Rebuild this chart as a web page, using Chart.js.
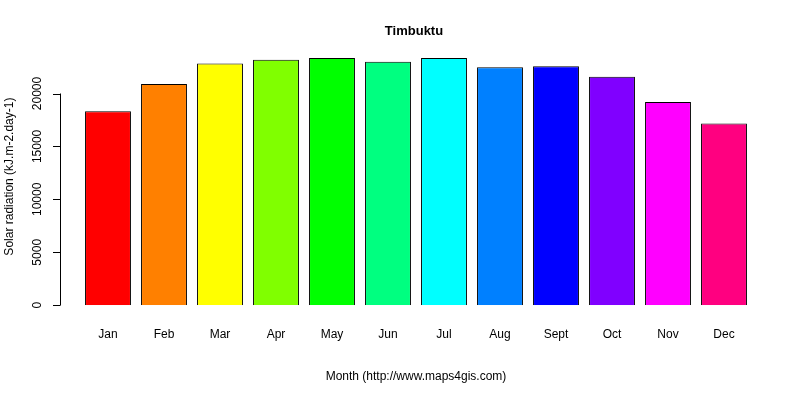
<!DOCTYPE html>
<html>
<head>
<script src="https://cdn.jsdelivr.net/npm/chart.js@4"></script>
<style>body{margin:0;background:#fff}</style>
</head>
<body>
<canvas id="c" width="800" height="400"></canvas>
<script>
const months = ["Jan","Feb","Mar","Apr","May","Jun","Jul","Aug","Sept","Oct","Nov","Dec"];
const radiation = [18320,20890,22830,23190,23360,23010,23360,22480,22570,21590,19200,17170];
const barColors = ["#FF0000","#FF8000","#FFFF00","#80FF00","#00FF00","#00FF80","#00FFFF","#0080FF","#0000FF","#8000FF","#FF00FF","#FF0080"];
const yTicks = [0,5000,10000,15000,20000];

const font = "12px 'Liberation Sans', Arial, sans-serif";

const rAxis = {
    id: "rAxis",
    afterDraw(chart) {
        const ctx = chart.ctx;
        const y = chart.scales.y;
        const area = chart.chartArea;
        ctx.save();
        ctx.strokeStyle = "#000";
        ctx.lineWidth = 1;
        ctx.fillStyle = "#000";
        ctx.beginPath();
        ctx.moveTo(60.5, y.getPixelForValue(0));
        ctx.lineTo(60.5, y.getPixelForValue(20000));
        yTicks.forEach((t) => {
            const py = Math.round(y.getPixelForValue(t)) + 0.5;
            ctx.moveTo(53, py);
            ctx.lineTo(60.5, py);
        });
        ctx.stroke();
        ctx.font = font;
        ctx.textAlign = "center";
        ctx.textBaseline = "middle";
        yTicks.forEach((t) => {
            ctx.save();
            ctx.translate(38, y.getPixelForValue(t));
            ctx.rotate(-Math.PI / 2);
            ctx.fillText(String(t), 0, 0);
            ctx.restore();
        });
        ctx.save();
        ctx.translate(10, (area.top + area.bottom) / 2);
        ctx.rotate(-Math.PI / 2);
        ctx.fillText("Solar radiation (kJ.m-2.day-1)", 0, 0);
        ctx.restore();
        ctx.font = "bold 13px 'Liberation Sans', Arial, sans-serif";
        ctx.fillText("Timbuktu", 414, 31);
        ctx.restore();
    },
};

new Chart(document.getElementById("c"), {
    type: "bar",
    data: {
        labels: months,
        datasets: [{
            data: radiation,
            backgroundColor: barColors,
            borderColor: "#000",
            borderWidth: 1,
            barPercentage: 0.82,
            categoryPercentage: 1,
        }],
    },
    options: {
        responsive: false,
        animation: false,
        devicePixelRatio: 1,
        layout: { padding: { left: 80, right: 48, top: 48, bottom: 12 } },
        plugins: { legend: { display: false }, tooltip: { enabled: false } },
        scales: {
            y: { display: false, min: 0, max: 24300 },
            x: {
                grid: { display: false },
                border: { display: false },
                ticks: { color: "#000", font: { family: "'Liberation Sans', Arial", size: 12 }, padding: 14 },
                title: { display: true, text: "Month (http://www.maps4gis.com)", color: "#000",
                         font: { family: "'Liberation Sans', Arial", size: 12 }, padding: { top: 14 } },
            },
        },
    },
    plugins: [rAxis],
});
</script>
</body>
</html>
